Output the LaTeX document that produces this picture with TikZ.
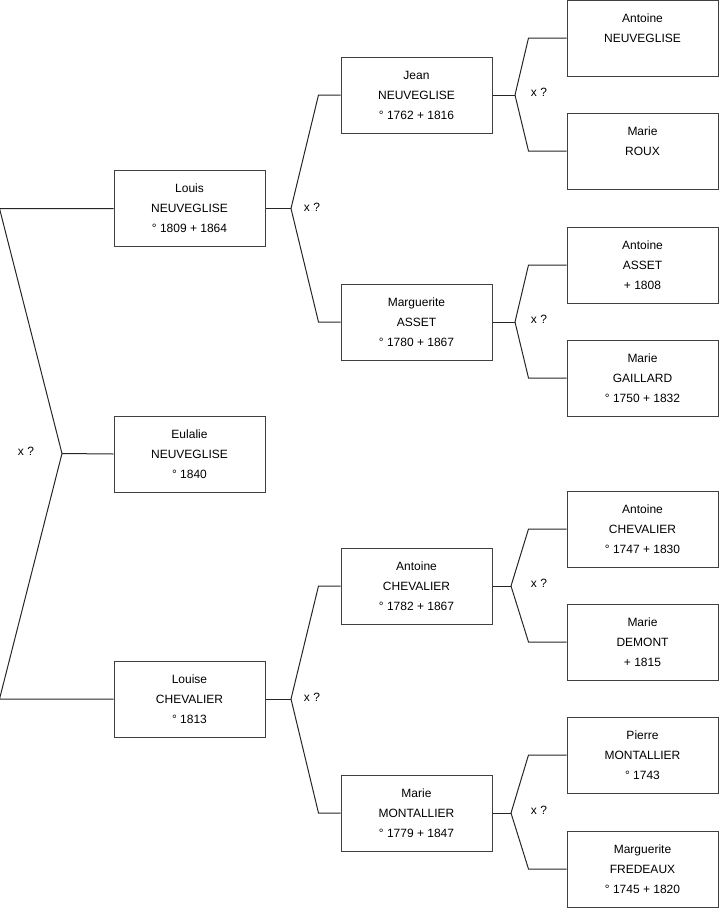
\documentclass[tikz,border=0pt]{standalone}
\usepackage{fontspec}
\setmainfont{Liberation Sans}
\usetikzlibrary{calc}
\tikzset{
  person/.style={draw=black!75, line width=0.75pt, align=center, minimum width=113.25pt,
    minimum height=57pt, inner sep=0pt, font=\fontsize{9pt}{15pt}\selectfont},
  link/.style={line width=0.75pt, black!85},
  union/.style={font=\fontsize{9pt}{15pt}\selectfont}
}
\begin{document}
\begin{tikzpicture}[x=0.75pt,y=-0.75pt]
\useasboundingbox (0,0) rectangle (719,908);
% children
\node[person] (louis) at (189.5,208.5) {Louis\\NEUVEGLISE\\° 1809 + 1864};
\node[person] (eulalie) at (189.5,454) {Eulalie\\NEUVEGLISE\\° 1840};
\node[person] (louise) at (189.5,699) {Louise\\CHEVALIER\\° 1813};
% parents
\node[person] (jean) at (416.5,95) {Jean\\NEUVEGLISE\\° 1762 + 1816};
\node[person] (marguerite) at (416.5,322) {Marguerite\\ASSET\\° 1780 + 1867};
\node[person] (antoinec) at (416.5,586) {Antoine\\CHEVALIER\\° 1782 + 1867};
\node[person] (mariem) at (416.5,813) {Marie\\MONTALLIER\\° 1779 + 1847};
% grandparents
\node[person] (antoinen) at (642.5,38) {Antoine\\NEUVEGLISE\\~};
\node[person] (marier) at (642.5,151) {Marie\\ROUX\\~};
\node[person] (antoinea) at (642.5,265) {Antoine\\ASSET\\+ 1808};
\node[person] (marieg) at (642.5,378) {Marie\\GAILLARD\\° 1750 + 1832};
\node[person] (antoinech) at (642.5,529) {Antoine\\CHEVALIER\\° 1747 + 1830};
\node[person] (maried) at (642.5,642) {Marie\\DEMONT\\+ 1815};
\node[person] (pierre) at (642.5,755) {Pierre\\MONTALLIER\\° 1743};
\node[person] (margueritef) at (642.5,869) {Marguerite\\FREDEAUX\\° 1745 + 1820};

% forks
\coordinate (j0) at (62,453.5);
\draw[link] (eulalie.west) -- (j0);
\draw[link] (j0) -- ($(louis.west)+(-114,0)$) -- (louis.west);
\draw[link] (j0) -- ($(louise.west)+(-114,0)$) -- (louise.west);
\node[union] (u0) at (26,451) {x ?};

\coordinate (j1) at (291,208.5);
\draw[link] (louis.east) -- (j1);
\draw[link] (j1) -- ($(jean.west)+(-22,0)$) -- (jean.west);
\draw[link] (j1) -- ($(marguerite.west)+(-22,0)$) -- (marguerite.west);
\node[union] (u1) at (312,207) {x ?};

\coordinate (j2) at (291,699);
\draw[link] (louise.east) -- (j2);
\draw[link] (j2) -- ($(antoinec.west)+(-22,0)$) -- (antoinec.west);
\draw[link] (j2) -- ($(mariem.west)+(-22,0)$) -- (mariem.west);
\node[union] (u2) at (312,697) {x ?};

\coordinate (j3) at (515,95);
\draw[link] (jean.east) -- (j3);
\draw[link] (j3) -- ($(antoinen.west)+(-38,0)$) -- (antoinen.west);
\draw[link] (j3) -- ($(marier.west)+(-38,0)$) -- (marier.west);
\node[union] (u3) at (539,92) {x ?};

\coordinate (j4) at (515,322);
\draw[link] (marguerite.east) -- (j4);
\draw[link] (j4) -- ($(antoinea.west)+(-38,0)$) -- (antoinea.west);
\draw[link] (j4) -- ($(marieg.west)+(-38,0)$) -- (marieg.west);
\node[union] (u4) at (539,319) {x ?};

\coordinate (j5) at (511,586);
\draw[link] (antoinec.east) -- (j5);
\draw[link] (j5) -- ($(antoinech.west)+(-38,0)$) -- (antoinech.west);
\draw[link] (j5) -- ($(maried.west)+(-38,0)$) -- (maried.west);
\node[union] (u5) at (539,583) {x ?};

\coordinate (j6) at (511,813);
\draw[link] (mariem.east) -- (j6);
\draw[link] (j6) -- ($(pierre.west)+(-38,0)$) -- (pierre.west);
\draw[link] (j6) -- ($(margueritef.west)+(-38,0)$) -- (margueritef.west);
\node[union] (u6) at (539,810) {x ?};
\end{tikzpicture}
\end{document}
